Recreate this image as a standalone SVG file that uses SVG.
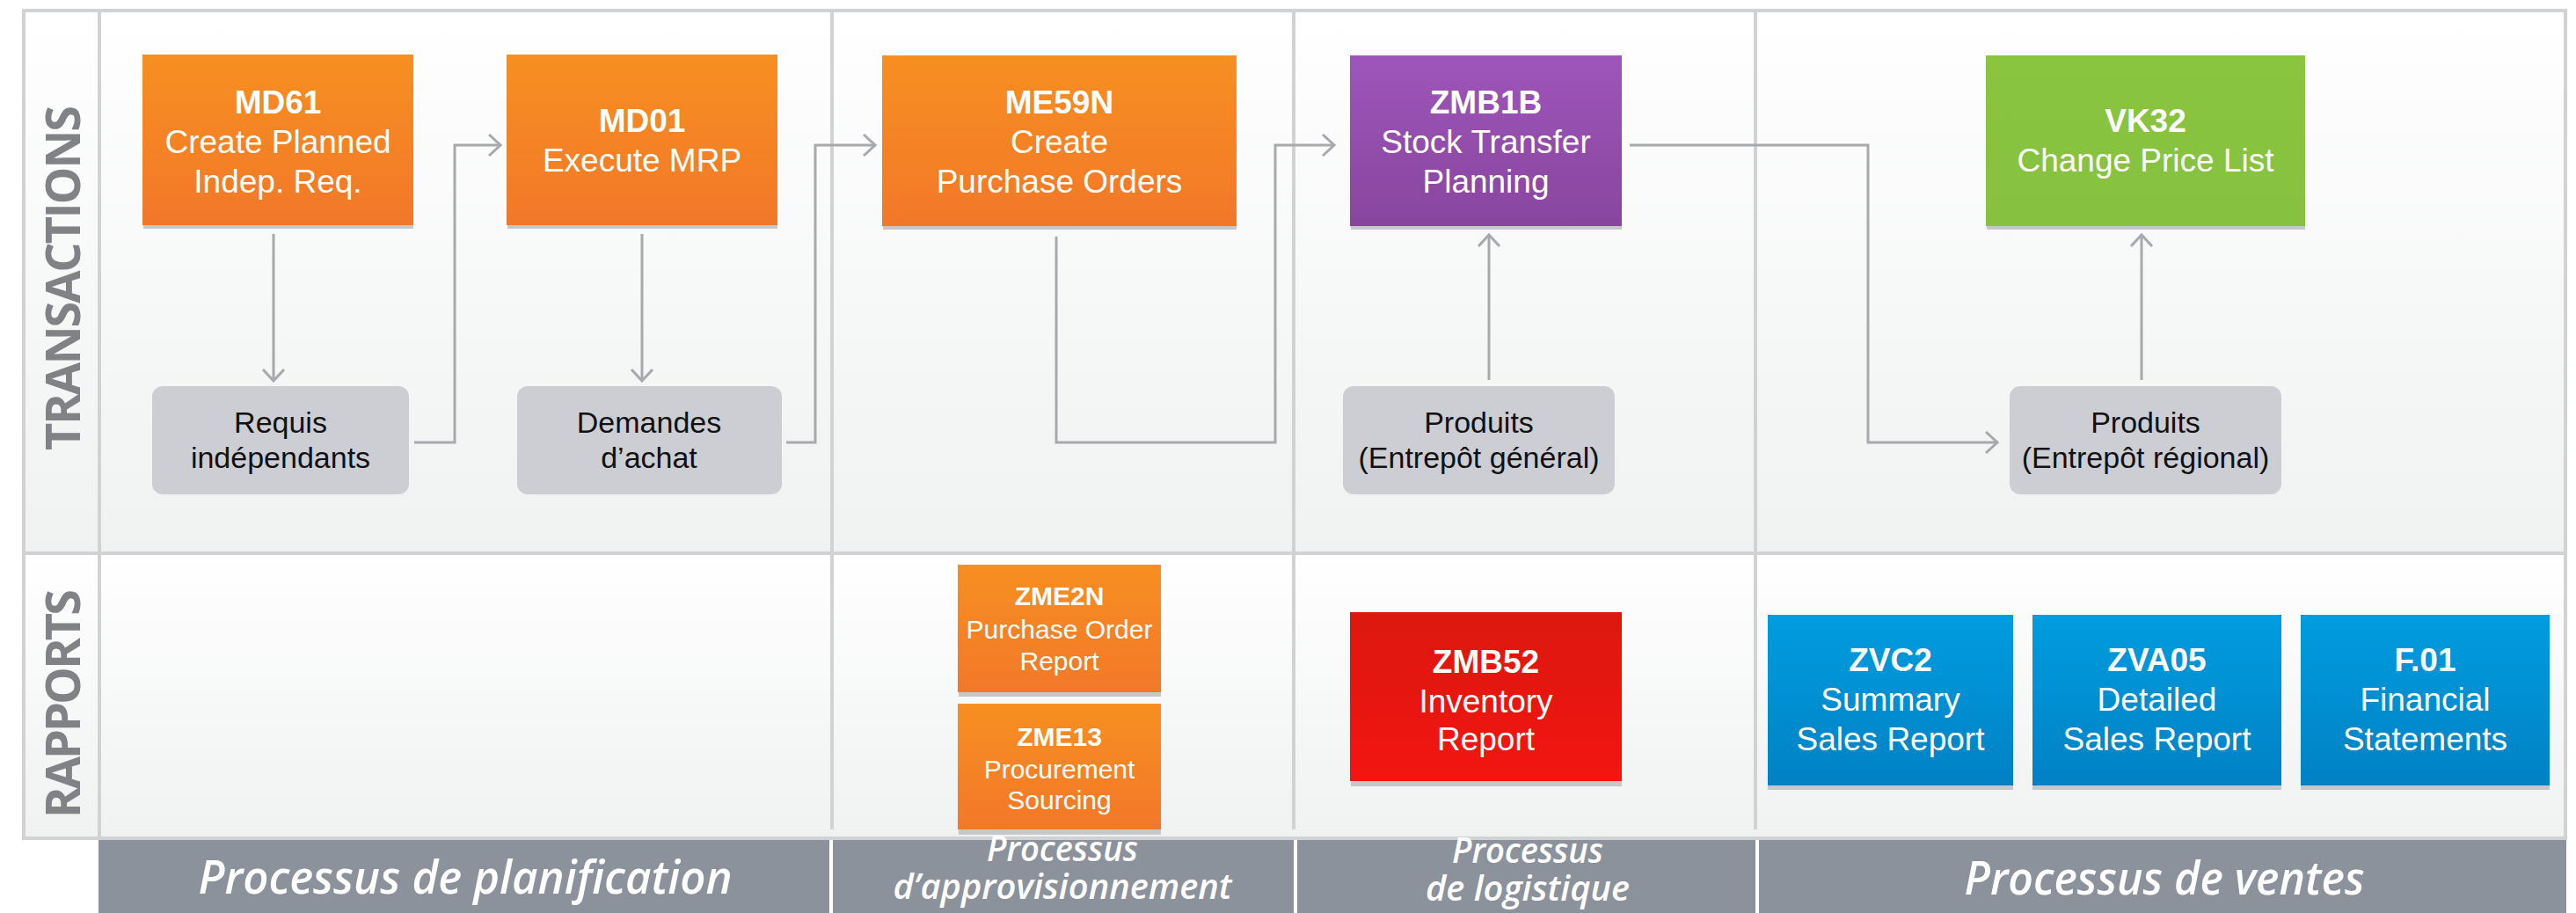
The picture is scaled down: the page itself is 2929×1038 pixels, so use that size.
<svg xmlns="http://www.w3.org/2000/svg" width="2929" height="1038" viewBox="0 0 2929 1038">
<defs>
<linearGradient id="rowbg" x1="0" y1="0" x2="0" y2="1"><stop offset="0" stop-color="#ffffff"/><stop offset="1" stop-color="#f0f1f1"/></linearGradient>
<linearGradient id="orange" x1="0" y1="0" x2="0" y2="1"><stop offset="0" stop-color="#f78f21"/><stop offset="1" stop-color="#f27829"/></linearGradient>
<linearGradient id="purple" x1="0" y1="0" x2="0" y2="1"><stop offset="0" stop-color="#9e56ba"/><stop offset="1" stop-color="#88459e"/></linearGradient>
<linearGradient id="green" x1="0" y1="0" x2="0" y2="1"><stop offset="0" stop-color="#8ac540"/><stop offset="1" stop-color="#86c140"/></linearGradient>
<linearGradient id="red" x1="0" y1="0" x2="0" y2="1"><stop offset="0" stop-color="#db180f"/><stop offset="1" stop-color="#f31510"/></linearGradient>
<linearGradient id="blue" x1="0" y1="0" x2="0" y2="1"><stop offset="0" stop-color="#009ddf"/><stop offset="1" stop-color="#0081c4"/></linearGradient>
<marker id="arr" viewBox="0 0 16 26" refX="14" refY="13" markerWidth="16" markerHeight="26" markerUnits="userSpaceOnUse" orient="auto">
<path d="M1,1 L14,13 L1,25" fill="none" stroke="#a7a9ad" stroke-width="3"/>
</marker>
</defs>
<style>
.frame{fill:none;stroke:#d1d2d4;stroke-width:4}
.conn{fill:none;stroke:#a7a9ad;stroke-width:3;marker-end:url(#arr)}
.shadow{fill:#c6c7c8}
.gnode{fill:#cdced3}
.code{font-family:"Liberation Sans",Arial,sans-serif;font-weight:bold;font-size:37px;fill:#fff;text-anchor:middle}
.desc{font-family:"Liberation Sans",Arial,sans-serif;font-size:37px;fill:#fff;text-anchor:middle}
.scode{font-family:"Liberation Sans",Arial,sans-serif;font-weight:bold;font-size:30px;fill:#fff;text-anchor:middle}
.sdesc{font-family:"Liberation Sans",Arial,sans-serif;font-size:30px;fill:#fff;text-anchor:middle}
.gtext{font-family:"Liberation Sans",Arial,sans-serif;font-size:34px;fill:#111;text-anchor:middle}
.lane{font-family:"Open Sans","DejaVu Sans",sans-serif;font-weight:bold;font-size:54px;fill:#808285;text-anchor:middle}
.band{font-family:"Open Sans","Liberation Sans",sans-serif;font-style:italic;font-weight:600;fill:#fff;text-anchor:middle}
</style>

<g id="background">
<rect x="27" y="12" width="2890" height="617" fill="url(#rowbg)"/>
<rect x="27" y="629" width="2890" height="324" fill="url(#rowbg)"/>
<rect x="112" y="953" width="2806" height="85" fill="#8c929b"/>
<line x1="945" y1="953" x2="945" y2="1038" stroke="#ffffff" stroke-width="4"/>
<line x1="1473" y1="953" x2="1473" y2="1038" stroke="#ffffff" stroke-width="4"/>
<line x1="1998" y1="953" x2="1998" y2="1038" stroke="#ffffff" stroke-width="4"/>
<rect class="frame" x="27" y="12" width="2890" height="941"/>
<line class="frame" x1="113" y1="12" x2="113" y2="953"/>
<line class="frame" x1="27" y1="629" x2="2917" y2="629"/>
<line class="frame" x1="946" y1="12" x2="946" y2="943"/>
<line class="frame" x1="1471" y1="12" x2="1471" y2="943"/>
<line class="frame" x1="1996" y1="12" x2="1996" y2="943"/>
</g>

<g id="lane-labels">
<text class="lane" transform="translate(91,316) rotate(-90)" textLength="392" lengthAdjust="spacing">TRANSACTIONS</text>
<text class="lane" transform="translate(91,800) rotate(-90)" textLength="260" lengthAdjust="spacing">RAPPORTS</text>
</g>

<g id="process-labels">
<text class="band" x="529" y="1016" font-size="52" textLength="607" lengthAdjust="spacingAndGlyphs">Processus de planification</text>
<text class="band" x="1208" y="979" font-size="40" textLength="172" lengthAdjust="spacingAndGlyphs">Processus</text>
<text class="band" x="1208" y="1022" font-size="40" textLength="385" lengthAdjust="spacingAndGlyphs">d’approvisionnement</text>
<text class="band" x="1737" y="981" font-size="40" textLength="172" lengthAdjust="spacingAndGlyphs">Processus</text>
<text class="band" x="1737" y="1024" font-size="40" textLength="232" lengthAdjust="spacingAndGlyphs">de logistique</text>
<text class="band" x="2461" y="1017" font-size="52" textLength="455" lengthAdjust="spacingAndGlyphs">Processus de ventes</text>
</g>

<g id="connectors">
<path class="conn" d="M311,266 V433"/>
<path class="conn" d="M730,266 V433"/>
<path class="conn" d="M471,503 H517 V165 H569"/>
<path class="conn" d="M894,503 H927 V165 H995"/>
<path class="conn" d="M1201,269 V503 H1450 V165 H1517"/>
<path class="conn" d="M1693,432 V267"/>
<path class="conn" d="M1853,165 H2124 V503 H2271"/>
<path class="conn" d="M2435,432 V267"/>
</g>

<g id="node-md61">
<rect class="shadow" x="163" y="254" width="307" height="6"/>
<rect x="162" y="62" width="308" height="194" fill="url(#orange)"/>
<text class="code" x="316" y="129">MD61</text>
<text class="desc" x="316" y="174">Create Planned</text>
<text class="desc" x="316" y="219">Indep. Req.</text>
</g>
<g id="node-md01">
<rect class="shadow" x="577" y="254" width="307" height="6"/>
<rect x="576" y="62" width="308" height="194" fill="url(#orange)"/>
<text class="code" x="730" y="150">MD01</text>
<text class="desc" x="730" y="195">Execute MRP</text>
</g>
<g id="node-me59n">
<rect class="shadow" x="1004" y="255" width="402" height="6"/>
<rect x="1003" y="63" width="403" height="194" fill="url(#orange)"/>
<text class="code" x="1204.5" y="129">ME59N</text>
<text class="desc" x="1204.5" y="174">Create</text>
<text class="desc" x="1204.5" y="219">Purchase Orders</text>
</g>
<g id="node-zmb1b">
<rect class="shadow" x="1536" y="255" width="308" height="6"/>
<rect x="1535" y="63" width="309" height="194" fill="url(#purple)"/>
<text class="code" x="1689.5" y="129">ZMB1B</text>
<text class="desc" x="1689.5" y="174">Stock Transfer</text>
<text class="desc" x="1689.5" y="219">Planning</text>
</g>
<g id="node-vk32">
<rect class="shadow" x="2259" y="255" width="362" height="6"/>
<rect x="2258" y="63" width="363" height="194" fill="url(#green)"/>
<text class="code" x="2439.5" y="150">VK32</text>
<text class="desc" x="2439.5" y="195">Change Price List</text>
</g>

<g id="node-requis">
<rect class="gnode" x="173" y="439" width="292" height="123" rx="12"/>
<text class="gtext" x="319" y="492">Requis</text>
<text class="gtext" x="319" y="532">indépendants</text>
</g>
<g id="node-demandes">
<rect class="gnode" x="588" y="439" width="301" height="123" rx="12"/>
<text class="gtext" x="738" y="492">Demandes</text>
<text class="gtext" x="738" y="532">d’achat</text>
</g>
<g id="node-produits-general">
<rect class="gnode" x="1527" y="439" width="309" height="123" rx="12"/>
<text class="gtext" x="1681.5" y="492">Produits</text>
<text class="gtext" x="1681.5" y="532">(Entrepôt général)</text>
</g>
<g id="node-produits-regional">
<rect class="gnode" x="2285" y="439" width="309" height="123" rx="12"/>
<text class="gtext" x="2439.5" y="492">Produits</text>
<text class="gtext" x="2439.5" y="532">(Entrepôt régional)</text>
</g>

<g id="node-zme2n">
<rect class="shadow" x="1090" y="786" width="230" height="6"/>
<rect x="1089" y="642" width="231" height="145" fill="url(#orange)"/>
<text class="scode" x="1204.5" y="688">ZME2N</text>
<text class="sdesc" x="1204.5" y="726">Purchase Order</text>
<text class="sdesc" x="1204.5" y="762">Report</text>
</g>
<g id="node-zme13">
<rect class="shadow" x="1090" y="942" width="230" height="7"/>
<rect x="1089" y="800" width="231" height="143" fill="url(#orange)"/>
<text class="scode" x="1204.5" y="848">ZME13</text>
<text class="sdesc" x="1204.5" y="885">Procurement</text>
<text class="sdesc" x="1204.5" y="920">Sourcing</text>
</g>
<g id="node-zmb52">
<rect class="shadow" x="1536" y="887" width="308" height="7"/>
<rect x="1535" y="696" width="309" height="192" fill="url(#red)"/>
<text class="code" x="1689.5" y="765">ZMB52</text>
<text class="desc" x="1689.5" y="810">Inventory</text>
<text class="desc" x="1689.5" y="853">Report</text>
</g>
<g id="node-zvc2">
<rect class="shadow" x="2010" y="892" width="279" height="6"/>
<rect x="2010" y="699" width="279" height="194" fill="url(#blue)"/>
<text class="code" x="2149.5" y="763">ZVC2</text>
<text class="desc" x="2149.5" y="808">Summary</text>
<text class="desc" x="2149.5" y="853">Sales Report</text>
</g>
<g id="node-zva05">
<rect class="shadow" x="2311" y="892" width="283" height="6"/>
<rect x="2311" y="699" width="283" height="194" fill="url(#blue)"/>
<text class="code" x="2452.5" y="763">ZVA05</text>
<text class="desc" x="2452.5" y="808">Detailed</text>
<text class="desc" x="2452.5" y="853">Sales Report</text>
</g>
<g id="node-f01">
<rect class="shadow" x="2616" y="892" width="283" height="6"/>
<rect x="2616" y="699" width="283" height="194" fill="url(#blue)"/>
<text class="code" x="2757.5" y="763">F.01</text>
<text class="desc" x="2757.5" y="808">Financial</text>
<text class="desc" x="2757.5" y="853">Statements</text>
</g>
</svg>
